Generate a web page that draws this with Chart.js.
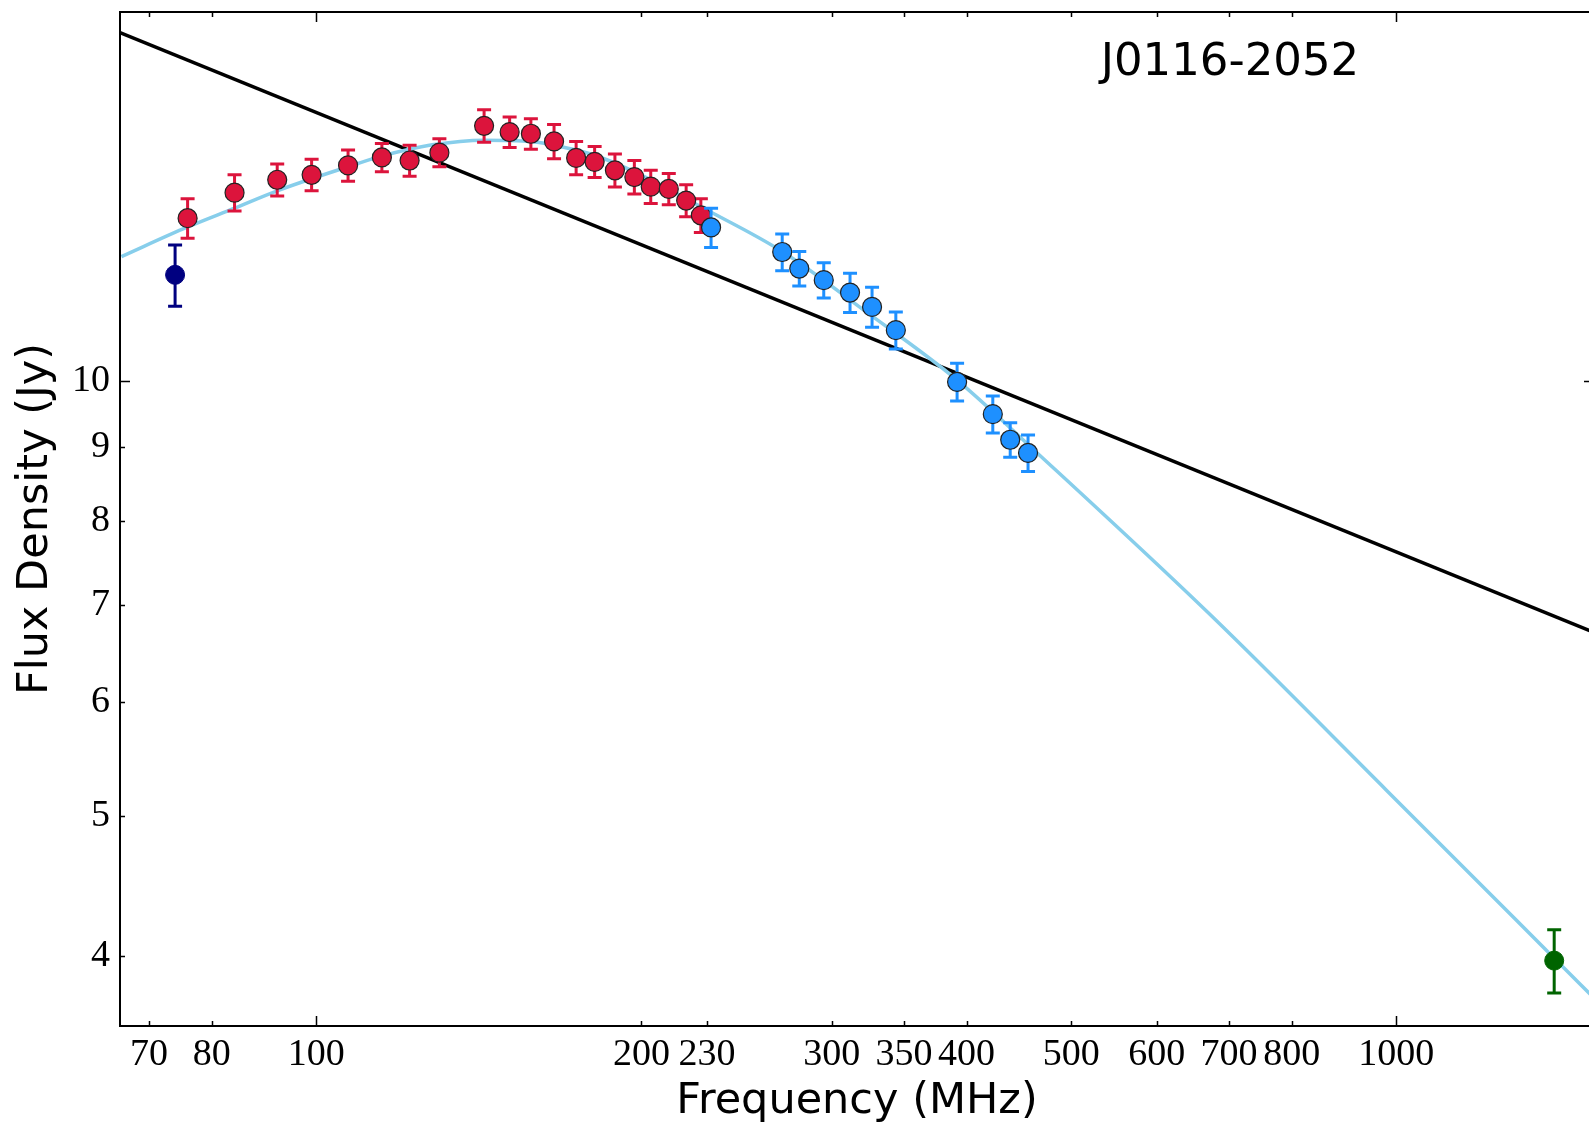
<!DOCTYPE html>
<html>
<head>
<meta charset="utf-8">
<script src="https://cdn.jsdelivr.net/npm/chart.js@4.4.1/dist/chart.umd.min.js"></script>
<style>
  html, body { margin: 0; padding: 0; background: #fff; overflow: hidden; }
  #wrap { width: 1589px; height: 1130px; overflow: hidden; }
  canvas { display: block; }
</style>
</head>
<body>
<div id="wrap"><canvas id="sed" width="1610" height="1130"></canvas></div>
<script>
// tick labels
const xTicks = [70, 80, 100, 200, 230, 300, 350, 400, 500, 600, 700, 800, 1000];
const yTicks = [4, 5, 6, 7, 8, 9, 10];
const xMajor = [100, 1000];
const yMajor = [10];

// measurements (MHz, Jy)
const navyFreq = [74];
const navyFlux = [11.85];
const navyErr  = [0.58];

const redFreq = [76, 84, 92, 99, 107, 115, 122, 130, 143, 151, 158, 166, 174, 181, 189, 197, 204, 212, 220, 227];
const redFlux = [12.97, 13.51, 13.79, 13.90, 14.11, 14.29, 14.22, 14.40, 15.03, 14.88, 14.84, 14.66, 14.28, 14.19, 14.00, 13.85, 13.64, 13.59, 13.34, 13.03];
const redErr  = [0.41, 0.39, 0.35, 0.35, 0.35, 0.32, 0.35, 0.32, 0.39, 0.36, 0.36, 0.40, 0.38, 0.35, 0.37, 0.37, 0.36, 0.34, 0.34, 0.35];

const blueFreq = [232, 270, 280, 295, 312, 327, 344, 392, 423, 439, 456];
const blueFlux = [12.78, 12.29, 11.97, 11.75, 11.52, 11.26, 10.85, 9.99, 9.49, 9.11, 8.92];
const blueErr  = [0.40, 0.36, 0.33, 0.33, 0.36, 0.36, 0.32, 0.30, 0.28, 0.25, 0.26];

const greenFreq = [1400];
const greenFlux = [3.97];
const greenErr  = [0.20];

// power-law line (ends at the axis limits)
const plFreq = [65.8, 1524];
const plFlux = [17.44, 6.70];

// curved model
const curveFreq = [66, 76, 84, 92, 107, 115, 128, 143, 158, 174, 183, 204, 227, 270, 323, 392, 465, 670, 979, 1398, 1524];
const curveFlux = [12.20, 12.79, 13.18, 13.55, 14.08, 14.32, 14.58, 14.69, 14.66, 14.46, 14.30, 13.79, 13.21, 12.30, 11.17, 10.02, 8.92, 6.91, 5.21, 3.99, 3.74];

const pts = (xs, ys) => xs.map((x, i) => ({ x, y: ys[i] }));

const errorBars = {
  id: 'errorBars',
  beforeDatasetDraw(chart, args) {
    const ds = chart.data.datasets[args.index];
    if (!ds.errors) return;
    const { ctx, scales: { x, y } } = chart;
    ctx.save();
    ctx.strokeStyle = ds.errColor;
    ctx.lineWidth = 3;
    ds.data.forEach((p, i) => {
      const px = x.getPixelForValue(p.x);
      const top = y.getPixelForValue(p.y + ds.errors[i]);
      const bot = y.getPixelForValue(p.y - ds.errors[i]);
      ctx.beginPath();
      ctx.moveTo(px, top); ctx.lineTo(px, bot);
      ctx.moveTo(px - 7, top); ctx.lineTo(px + 7, top);
      ctx.moveTo(px - 7, bot); ctx.lineTo(px + 7, bot);
      ctx.stroke();
    });
    ctx.restore();
  }
};

// matplotlib-like frame with inward ticks, plus the source name
const frame = {
  id: 'frame',
  afterDraw(chart) {
    const { ctx, chartArea: a, scales: { x, y } } = chart;
    ctx.save();
    ctx.strokeStyle = '#000';
    ctx.lineWidth = 1.5;
    ctx.beginPath();
    xTicks.forEach(v => {
      const px = Math.round(x.getPixelForValue(v)) + 0.5;
      const len = xMajor.includes(v) ? 10 : 5;
      ctx.moveTo(px, a.bottom); ctx.lineTo(px, a.bottom - len);
      ctx.moveTo(px, a.top); ctx.lineTo(px, a.top + len);
    });
    yTicks.forEach(v => {
      const py = Math.round(y.getPixelForValue(v)) + 0.5;
      const len = yMajor.includes(v) ? 10 : 5;
      ctx.moveTo(a.left, py); ctx.lineTo(a.left + len, py);
      ctx.moveTo(a.right, py); ctx.lineTo(a.right - len, py);
    });
    ctx.stroke();
    ctx.lineWidth = 2;
    ctx.strokeRect(a.left, a.top, a.right - a.left, a.bottom - a.top);

    ctx.fillStyle = '#000';
    ctx.font = '45px "DejaVu Sans"';
    ctx.textAlign = 'center';
    ctx.textBaseline = 'alphabetic';
    ctx.fillText('J0116-2052', a.left + 0.753 * (a.right - a.left), a.top + 63);
    ctx.restore();
  }
};

const tickFont = { family: 'Liberation Serif', size: 38 };
const titleFont = { family: 'DejaVu Sans', size: 43 };

new Chart(document.getElementById('sed'), {
  type: 'scatter',
  data: {
    datasets: [
      { label: 'navy', data: pts(navyFreq, navyFlux), errors: navyErr, errColor: '#000080',
        pointRadius: 9.5, pointBackgroundColor: '#000080', pointBorderColor: '#000080', pointBorderWidth: 1, order: 1 },
      { label: 'red', data: pts(redFreq, redFlux), errors: redErr, errColor: '#dc143c',
        pointRadius: 9.5, pointBackgroundColor: '#dc143c', pointBorderColor: '#222', pointBorderWidth: 1.2, order: 2 },
      { label: 'blue', data: pts(blueFreq, blueFlux), errors: blueErr, errColor: '#1e90ff',
        pointRadius: 9.5, pointBackgroundColor: '#1e90ff', pointBorderColor: '#222', pointBorderWidth: 1.2, order: 1 },
      { label: 'green', data: pts(greenFreq, greenFlux), errors: greenErr, errColor: '#006400',
        pointRadius: 9.5, pointBackgroundColor: '#006400', pointBorderColor: '#006400', pointBorderWidth: 1, order: 1 },
      { label: 'curve', data: pts(curveFreq, curveFlux), showLine: true, pointRadius: 0,
        borderColor: '#87ceeb', borderWidth: 3.5, cubicInterpolationMode: 'monotone', order: 4 },
      { label: 'powerlaw', data: pts(plFreq, plFlux), showLine: true, pointRadius: 0,
        borderColor: '#000', borderWidth: 3.5, order: 5 },
    ]
  },
  options: {
    responsive: false,
    animation: false,
    devicePixelRatio: 1,
    layout: { padding: { top: 12, right: 16, left: 0, bottom: 0 } },
    plugins: { legend: { display: false }, tooltip: { enabled: false } },
    scales: {
      x: {
        type: 'logarithmic', min: 65.8, max: 1524,
        grid: { display: false, drawTicks: false },
        border: { display: false },
        afterBuildTicks: s => { s.ticks = xTicks.map(v => ({ value: v })); },
        afterFit: s => { s.height = 104; s.paddingLeft = 0; s.paddingRight = 0; },
        ticks: { autoSkip: false, maxRotation: 0, minRotation: 0, padding: 6, color: '#000', font: tickFont,
                 callback: v => String(v) },
        title: { display: true, text: 'Frequency (MHz)', color: '#000', font: titleFont, padding: { top: 0, bottom: 2 } }
      },
      y: {
        type: 'logarithmic', min: 3.577, max: 18.02,
        grid: { display: false, drawTicks: false },
        border: { display: false },
        afterBuildTicks: s => { s.ticks = yTicks.map(v => ({ value: v })); },
        afterFit: s => { s.width = 120; s.paddingTop = 0; s.paddingBottom = 0; },
        ticks: { autoSkip: false, padding: 10, color: '#000', font: tickFont, callback: v => String(v) },
        title: { display: true, text: 'Flux Density (Jy)', color: '#000', font: titleFont, padding: { top: 10, bottom: 0 } }
      }
    }
  },
  plugins: [errorBars, frame]
});
</script>
</body>
</html>
